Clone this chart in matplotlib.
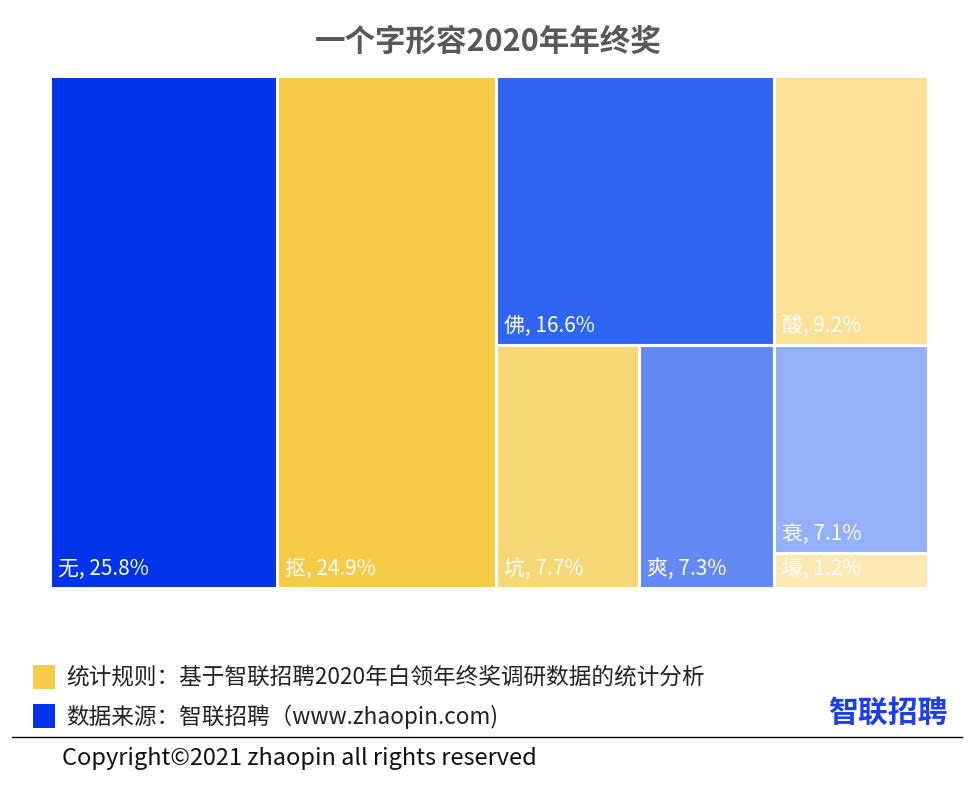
import matplotlib
matplotlib.use("Agg")
from matplotlib import pyplot as plt
from matplotlib.patches import Rectangle

plt.rcParams['font.family'] = ['Noto Sans CJK SC', 'DejaVu Sans']

title = "一个字形容2020年年终奖"
words = ["无", "抠", "佛", "酸", "坑", "爽", "衰", "壕"]
shares = [25.8, 24.9, 16.6, 9.2, 7.7, 7.3, 7.1, 1.2]
colors = ["#0033EA", "#F5CB48", "#2E65F3", "#FBE196",
          "#F6D775", "#638AF4", "#94B0F8", "#FCE8B3"]
# nesting of the treemap: 'h' = side by side, 'v' = stacked
tree = ('h', [0, 1, ('v', [('h', [2, 3]), ('h', [4, 5, ('v', [6, 7])])])])

note_rule = "统计规则：基于智联招聘2020年白领年终奖调研数据的统计分析"
note_source = "数据来源：智联招聘（www.zhaopin.com)"
copyright_text = "Copyright©2021 zhaopin all rights reserved"


def total(node):
    if isinstance(node, int):
        return shares[node]
    return sum(total(c) for c in node[1])


def layout(node, x, y, w, h, out):
    if isinstance(node, int):
        out.append((node, x, y, w, h))
        return
    direction, children = node
    s = total(node)
    pos = 0.0
    for c in children:
        f = total(c) / s
        if direction == 'h':
            layout(c, x + pos * w, y, f * w, h, out)
        else:
            layout(c, x, y + pos * h, w, f * h, out)
        pos += f


fig = plt.figure(figsize=(9.76, 7.90), dpi=100)
ax = fig.add_axes([0, 0, 1, 1])
ax.set_xlim(0, 976)
ax.set_ylim(790, 0)
ax.axis('off')

ax.text(488, 42, title, ha='center', va='center', fontsize=22,
        fontweight='bold', color='#595959')

rects = []
layout(tree, 50, 76, 878, 512, rects)
for i, x, y, w, h in rects:
    ax.add_patch(Rectangle((x, y), w, h, facecolor=colors[i],
                           edgecolor='white', linewidth=2.2))
    ax.text(x + 8, y + h - 8, f"{words[i]}, {shares[i]}%", ha='left',
            va='bottom', fontsize=15, color='white')

# footer
ax.add_patch(Rectangle((33, 665), 22, 24, facecolor='#F5CB48', edgecolor='none'))
ax.text(66, 678, note_rule, ha='left', va='center', fontsize=16.3, color='#222222')
ax.add_patch(Rectangle((33, 704), 22, 24, facecolor='#0033EA', edgecolor='none'))
ax.text(66, 717, note_source, ha='left', va='center', fontsize=16.3, color='#222222')
ax.text(948, 713, "智联招聘", ha='right', va='center', fontsize=21.5,
        fontweight='bold', color='#1B3FF0')
ax.plot([12, 962], [737, 737], color='black', linewidth=1)
ax.text(62, 758, copyright_text, ha='left', va='center', fontsize=17,
        color='#111111')

fig.savefig("out.png", dpi=100)
